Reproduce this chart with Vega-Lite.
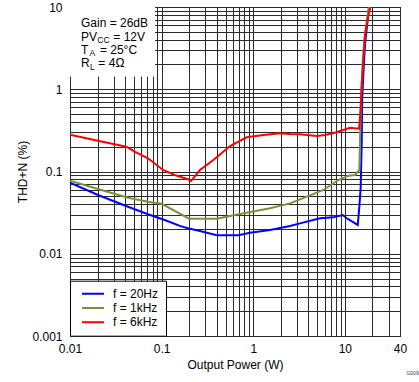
{
  "$schema": "https://vega.github.io/schema/vega-lite/v6.json",
  "width": 330,
  "height": 329,
  "autosize": {"type": "none"},
  "padding": {"left": 70, "top": 7, "right": 19, "bottom": 46},
  "config": {
    "font": "Liberation Sans",
    "view": {"stroke": "black", "strokeWidth": 1},
    "axis": {
      "grid": true, "gridColor": "#2b2b2b", "gridWidth": 1, "gridOpacity": 1,
      "domain": false, "ticks": false, "tickSize": 0,
      "labelFontSize": 12, "labelColor": "black", "labelFont": "Liberation Sans",
      "titleFontSize": 12, "titleFontWeight": "normal", "titleColor": "black", "titleFont": "Liberation Sans",
      "labelOverlap": false, "labelFlush": false, "labelBound": false
    }
  },
  "title": {"text": "G009", "orient": "bottom", "anchor": "end", "fontSize": 5, "fontWeight": "normal", "color": "#333333", "dx": 12, "offset": 1},
  "layer": [
    {
      "data": {"values": [
        {"f": "f = 20Hz", "P": 0.01, "THD": 0.073},
        {"f": "f = 20Hz", "P": 0.0202, "THD": 0.0518},
        {"f": "f = 20Hz", "P": 0.043, "THD": 0.0373},
        {"f": "f = 20Hz", "P": 0.071, "THD": 0.0302},
        {"f": "f = 20Hz", "P": 0.108, "THD": 0.0257},
        {"f": "f = 20Hz", "P": 0.158, "THD": 0.0218},
        {"f": "f = 20Hz", "P": 0.194, "THD": 0.0204},
        {"f": "f = 20Hz", "P": 0.262, "THD": 0.0189},
        {"f": "f = 20Hz", "P": 0.4, "THD": 0.0168},
        {"f": "f = 20Hz", "P": 0.688, "THD": 0.0168},
        {"f": "f = 20Hz", "P": 0.923, "THD": 0.018},
        {"f": "f = 20Hz", "P": 1.525, "THD": 0.0195},
        {"f": "f = 20Hz", "P": 2.52, "THD": 0.0218},
        {"f": "f = 20Hz", "P": 3.24, "THD": 0.0234},
        {"f": "f = 20Hz", "P": 5.36, "THD": 0.027},
        {"f": "f = 20Hz", "P": 7.49, "THD": 0.0277},
        {"f": "f = 20Hz", "P": 9.49, "THD": 0.0296},
        {"f": "f = 20Hz", "P": 10.5, "THD": 0.027},
        {"f": "f = 20Hz", "P": 13.83, "THD": 0.0224},
        {"f": "f = 20Hz", "P": 14.4, "THD": 0.0373},
        {"f": "f = 20Hz", "P": 14.9, "THD": 0.0653},
        {"f": "f = 20Hz", "P": 15.3, "THD": 0.24},
        {"f": "f = 20Hz", "P": 15.45, "THD": 0.74},
        {"f": "f = 20Hz", "P": 16.0, "THD": 1.71},
        {"f": "f = 20Hz", "P": 16.6, "THD": 3.45},
        {"f": "f = 20Hz", "P": 17.5, "THD": 6.0},
        {"f": "f = 20Hz", "P": 18.4, "THD": 10.2},
        {"f": "f = 1kHz", "P": 0.01, "THD": 0.0773},
        {"f": "f = 1kHz", "P": 0.0202, "THD": 0.0613},
        {"f": "f = 1kHz", "P": 0.043, "THD": 0.048},
        {"f": "f = 1kHz", "P": 0.071, "THD": 0.043},
        {"f": "f = 1kHz", "P": 0.1, "THD": 0.0405},
        {"f": "f = 1kHz", "P": 0.2, "THD": 0.0267},
        {"f": "f = 1kHz", "P": 0.4, "THD": 0.0267},
        {"f": "f = 1kHz", "P": 0.558, "THD": 0.0288},
        {"f": "f = 1kHz", "P": 0.849, "THD": 0.0316},
        {"f": "f = 1kHz", "P": 1.525, "THD": 0.0357},
        {"f": "f = 1kHz", "P": 2.52, "THD": 0.041},
        {"f": "f = 1kHz", "P": 3.24, "THD": 0.0459},
        {"f": "f = 1kHz", "P": 3.84, "THD": 0.0494},
        {"f": "f = 1kHz", "P": 5.83, "THD": 0.0596},
        {"f": "f = 1kHz", "P": 8.49, "THD": 0.0788},
        {"f": "f = 1kHz", "P": 10.9, "THD": 0.0889},
        {"f": "f = 1kHz", "P": 12.9, "THD": 0.0907},
        {"f": "f = 1kHz", "P": 14.4, "THD": 0.1043},
        {"f": "f = 1kHz", "P": 14.7, "THD": 0.294},
        {"f": "f = 1kHz", "P": 15.0, "THD": 0.74},
        {"f": "f = 1kHz", "P": 15.7, "THD": 2.27},
        {"f": "f = 1kHz", "P": 16.6, "THD": 4.79},
        {"f": "f = 1kHz", "P": 18.06, "THD": 9.2},
        {"f": "f = 1kHz", "P": 18.6, "THD": 10.5},
        {"f": "f = 6kHz", "P": 0.01, "THD": 0.28},
        {"f": "f = 6kHz", "P": 0.0202, "THD": 0.237},
        {"f": "f = 6kHz", "P": 0.0412, "THD": 0.2},
        {"f": "f = 6kHz", "P": 0.0508, "THD": 0.174},
        {"f": "f = 6kHz", "P": 0.071, "THD": 0.1447},
        {"f": "f = 6kHz", "P": 0.1036, "THD": 0.1043},
        {"f": "f = 6kHz", "P": 0.139, "THD": 0.0907},
        {"f": "f = 6kHz", "P": 0.194, "THD": 0.0804},
        {"f": "f = 6kHz", "P": 0.2094, "THD": 0.0766},
        {"f": "f = 6kHz", "P": 0.2624, "THD": 0.1043},
        {"f": "f = 6kHz", "P": 0.3668, "THD": 0.138},
        {"f": "f = 6kHz", "P": 0.558, "THD": 0.204},
        {"f": "f = 6kHz", "P": 0.849, "THD": 0.2606},
        {"f": "f = 6kHz", "P": 1.289, "THD": 0.278},
        {"f": "f = 6kHz", "P": 1.961, "THD": 0.2913},
        {"f": "f = 6kHz", "P": 2.52, "THD": 0.285},
        {"f": "f = 6kHz", "P": 3.24, "THD": 0.284},
        {"f": "f = 6kHz", "P": 4.94, "THD": 0.27},
        {"f": "f = 6kHz", "P": 6.08, "THD": 0.278},
        {"f": "f = 6kHz", "P": 7.49, "THD": 0.2913},
        {"f": "f = 6kHz", "P": 8.86, "THD": 0.311},
        {"f": "f = 6kHz", "P": 11.4, "THD": 0.341},
        {"f": "f = 6kHz", "P": 14.3, "THD": 0.331},
        {"f": "f = 6kHz", "P": 14.84, "THD": 0.56},
        {"f": "f = 6kHz", "P": 15.3, "THD": 1.13},
        {"f": "f = 6kHz", "P": 15.92, "THD": 2.27},
        {"f": "f = 6kHz", "P": 16.6, "THD": 4.57},
        {"f": "f = 6kHz", "P": 17.9, "THD": 7.56},
        {"f": "f = 6kHz", "P": 19.1, "THD": 10.2}
      ]},
      "mark": {"type": "line", "strokeWidth": 2, "clip": true},
      "encoding": {
        "x": {
          "field": "P", "type": "quantitative",
          "scale": {"type": "log", "domain": [0.01, 40], "nice": false},
          "axis": {
            "title": "Output Power (W)",
            "values": [0.01,0.02,0.03,0.04,0.05,0.06,0.07,0.08,0.09,0.1,0.2,0.3,0.4,0.5,0.6,0.7,0.8,0.9,1,2,3,4,5,6,7,8,9,10,20,30,40],
            "labelExpr": "indexof([0.01,0.1,1,10,40], datum.value) >= 0 ? '' + datum.value : ''",
            "labelPadding": 7, "titlePadding": 5
          }
        },
        "y": {
          "field": "THD", "type": "quantitative",
          "scale": {"type": "log", "domain": [0.001, 10], "nice": false},
          "axis": {
            "title": "THD+N (%)",
            "values": [0.001,0.002,0.003,0.004,0.005,0.006,0.007,0.008,0.009,0.01,0.02,0.03,0.04,0.05,0.06,0.07,0.08,0.09,0.1,0.2,0.3,0.4,0.5,0.6,0.7,0.8,0.9,1,2,3,4,5,6,7,8,9,10],
            "labelExpr": "indexof([0.001,0.01,0.1,1,10], datum.value) >= 0 ? '' + datum.value : ''",
            "labelPadding": 8, "titlePadding": 2
          }
        },
        "color": {
          "field": "f", "type": "nominal",
          "scale": {"domain": ["f = 20Hz", "f = 1kHz", "f = 6kHz"], "range": ["#0000FF", "#77933C", "#FF0000"]},
          "legend": {
            "title": null, "orient": "none", "legendX": 0, "legendY": 273.7,
            "fillColor": "white", "strokeColor": "black", "padding": 7,
            "symbolType": "stroke", "symbolStrokeWidth": 2, "symbolSize": 484, "symbolOffset": 4,
            "clipHeight": 12,
            "labelFontSize": 12, "labelOffset": 8, "rowPadding": 2.3, "labelColor": "black", "labelFont": "Liberation Sans"
          }
        }
      }
    },
    {
      "data": {"values": [{}]},
      "mark": {"type": "rect", "fill": "white"},
      "encoding": {
        "x": {"datum": 0.01}, "x2": {"datum": 0.0847},
        "y": {"datum": 10}, "y2": {"datum": 1.421}
      }
    },
    {
      "data": {"values": [{}]},
      "mark": {"type": "text", "align": "left", "baseline": "alphabetic", "fontSize": 12, "color": "black", "text": "Gain = 26dB"},
      "encoding": {"x": {"datum": 0.01318}, "y": {"datum": 5.665}}
    },
    {
      "data": {"values": [{}]},
      "mark": {"type": "text", "align": "left", "baseline": "alphabetic", "fontSize": 12, "color": "black", "text": "PV"},
      "encoding": {"x": {"datum": 0.01318}, "y": {"datum": 3.905}}
    },
    {
      "data": {"values": [{}]},
      "mark": {"type": "text", "align": "left", "baseline": "alphabetic", "fontSize": 8.5, "color": "black", "text": "CC"},
      "encoding": {"x": {"datum": 0.01987}, "y": {"datum": 3.64}}
    },
    {
      "data": {"values": [{}]},
      "mark": {"type": "text", "align": "left", "baseline": "alphabetic", "fontSize": 12, "color": "black", "text": "= 12V"},
      "encoding": {"x": {"datum": 0.0297}, "y": {"datum": 3.905}}
    },
    {
      "data": {"values": [{}]},
      "mark": {"type": "text", "align": "left", "baseline": "alphabetic", "fontSize": 12, "color": "black", "text": "T"},
      "encoding": {"x": {"datum": 0.01318}, "y": {"datum": 2.691}}
    },
    {
      "data": {"values": [{}]},
      "mark": {"type": "text", "align": "left", "baseline": "alphabetic", "fontSize": 8.5, "color": "black", "text": "A"},
      "encoding": {"x": {"datum": 0.01634}, "y": {"datum": 2.508}}
    },
    {
      "data": {"values": [{}]},
      "mark": {"type": "text", "align": "left", "baseline": "alphabetic", "fontSize": 12, "color": "black", "text": "= 25°C"},
      "encoding": {"x": {"datum": 0.0212}, "y": {"datum": 2.691}}
    },
    {
      "data": {"values": [{}]},
      "mark": {"type": "text", "align": "left", "baseline": "alphabetic", "fontSize": 12, "color": "black", "text": "R"},
      "encoding": {"x": {"datum": 0.01318}, "y": {"datum": 1.854}}
    },
    {
      "data": {"values": [{}]},
      "mark": {"type": "text", "align": "left", "baseline": "alphabetic", "fontSize": 8.5, "color": "black", "text": "L"},
      "encoding": {"x": {"datum": 0.01653}, "y": {"datum": 1.729}}
    },
    {
      "data": {"values": [{}]},
      "mark": {"type": "text", "align": "left", "baseline": "alphabetic", "fontSize": 12, "color": "black", "text": "= 4Ω"},
      "encoding": {"x": {"datum": 0.0204}, "y": {"datum": 1.854}}
    }
  ]
}
